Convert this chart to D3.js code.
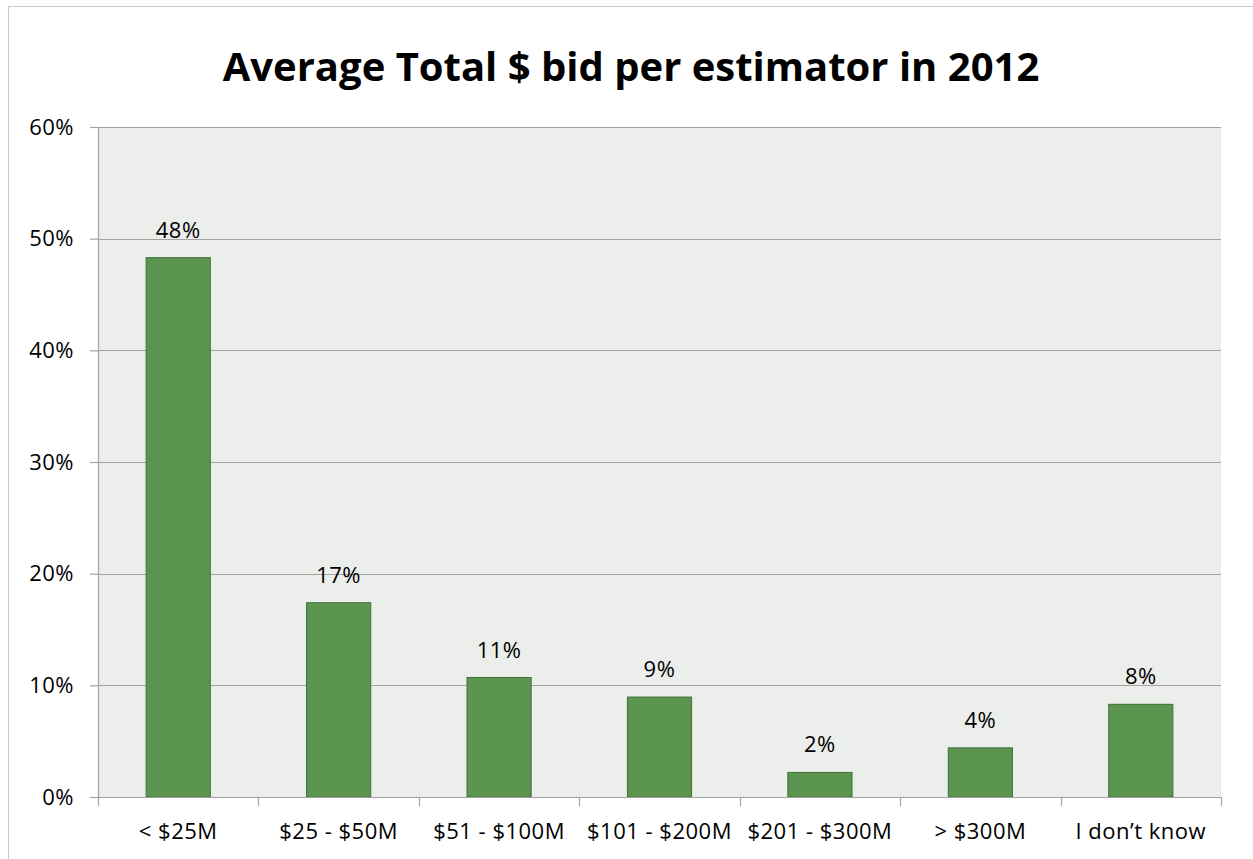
<!DOCTYPE html>
<html>
<head>
<meta charset="utf-8">
<script src="https://cdn.jsdelivr.net/npm/d3@7"></script>
<style>
  html, body { margin: 0; padding: 0; background: #ffffff; }
  svg { display: block; }
</style>
</head>
<body>
<svg id="chart" width="1253" height="859"></svg>
<script>
// Survey categories: average total dollars bid per estimator
const categories = ["< $25M", "$25 - $50M", "$51 - $100M", "$101 - $200M", "$201 - $300M", "> $300M", "I don\u2019t know"];
// Share of respondents in each category
const shares = [0.483, 0.174, 0.107, 0.0895, 0.022, 0.044, 0.083];
// Value-axis ticks
const yTicks = [0, 0.1, 0.2, 0.3, 0.4, 0.5, 0.6];
const title = "Average Total $ bid per estimator in 2012";

const W = 1253, H = 859;
const margin = { left: 98, right: 32, top: 127, bottom: 62 };
const fontFamily = "'Open Sans', 'DejaVu Sans', sans-serif";
const labelSize = 22;

const svg = d3.select("#chart");

// chart frame
svg.append("rect")
  .attr("x", 8.5).attr("y", 6.5)
  .attr("width", W + 10).attr("height", H + 10)
  .attr("fill", "#ffffff").attr("stroke", "#c8c8c8").attr("stroke-width", 1);

const x = d3.scaleBand()
  .domain(categories)
  .range([margin.left, W - margin.right])
  .paddingInner(0.6).paddingOuter(0.3);

const y = d3.scaleLinear()
  .domain([0, 0.6])
  .range([H - margin.bottom, margin.top]);

// plot background
svg.append("rect")
  .attr("x", margin.left).attr("y", margin.top)
  .attr("width", W - margin.right - margin.left)
  .attr("height", H - margin.bottom - margin.top)
  .attr("fill", "#eceeeb");

// horizontal gridlines
svg.append("g")
  .selectAll("line")
  .data(yTicks.filter(d => d > 0))
  .join("line")
  .attr("x1", margin.left).attr("x2", W - margin.right)
  .attr("y1", d => Math.round(y(d)) + 0.5).attr("y2", d => Math.round(y(d)) + 0.5)
  .attr("stroke", "#a3a3a3").attr("stroke-width", 1.2);

// bars
svg.append("g")
  .selectAll("rect")
  .data(shares)
  .join("rect")
  .attr("x", (d, i) => x(categories[i]))
  .attr("y", d => y(d))
  .attr("width", x.bandwidth())
  .attr("height", d => y(0) - y(d))
  .attr("fill", "#5c9550")
  .attr("stroke", "#40703a")
  .attr("stroke-width", 1);

// value labels
const pct = d3.format(".0%");
svg.append("g")
  .selectAll("text")
  .data(shares)
  .join("text")
  .attr("x", (d, i) => x(categories[i]) + x.bandwidth() / 2)
  .attr("y", d => y(d) - 20)
  .attr("text-anchor", "middle")
  .attr("font-family", fontFamily)
  .attr("font-size", labelSize)
  .attr("letter-spacing", 0.5)
  .attr("fill", "#000000")
  .text(d => pct(d));

// y axis
const yAxis = svg.append("g")
  .attr("transform", `translate(${margin.left},0)`)
  .call(d3.axisLeft(y).tickValues(yTicks).tickFormat(d3.format(".0%")).tickSize(8).tickPadding(16));
yAxis.select(".domain").attr("stroke", "#a3a3a3").attr("stroke-width", 1.2);
yAxis.selectAll(".tick line").attr("stroke", "#a3a3a3").attr("stroke-width", 1.2);
yAxis.selectAll(".tick text")
  .attr("font-family", fontFamily).attr("font-size", labelSize)
  .attr("letter-spacing", 0.5).attr("fill", "#000000");

// x axis with ticks at category boundaries
const bounds = categories.map(c => x(c) - x.step() * x.paddingInner() / 2);
bounds.push(W - margin.right);
const xAxisG = svg.append("g");
xAxisG.append("line")
  .attr("x1", margin.left).attr("x2", W - margin.right)
  .attr("y1", y(0) + 0.5).attr("y2", y(0) + 0.5)
  .attr("stroke", "#a3a3a3").attr("stroke-width", 1.2);
xAxisG.selectAll("line.tk")
  .data(bounds)
  .join("line")
  .attr("class", "tk")
  .attr("x1", d => Math.round(d) + 0.5).attr("x2", d => Math.round(d) + 0.5)
  .attr("y1", y(0)).attr("y2", y(0) + 9)
  .attr("stroke", "#a3a3a3").attr("stroke-width", 1.2);
xAxisG.selectAll("text")
  .data(categories)
  .join("text")
  .attr("x", d => x(d) + x.bandwidth() / 2)
  .attr("y", y(0) + 42)
  .attr("text-anchor", "middle")
  .attr("font-family", fontFamily)
  .attr("font-size", labelSize)
  .attr("letter-spacing", 0.5)
  .attr("fill", "#000000")
  .text(d => d);

// title
svg.append("text")
  .attr("x", 631).attr("y", 81)
  .attr("text-anchor", "middle")
  .attr("font-family", fontFamily)
  .attr("font-weight", "bold")
  .attr("font-size", 40)
  .attr("fill", "#000000")
  .text(title);
</script>
</body>
</html>
